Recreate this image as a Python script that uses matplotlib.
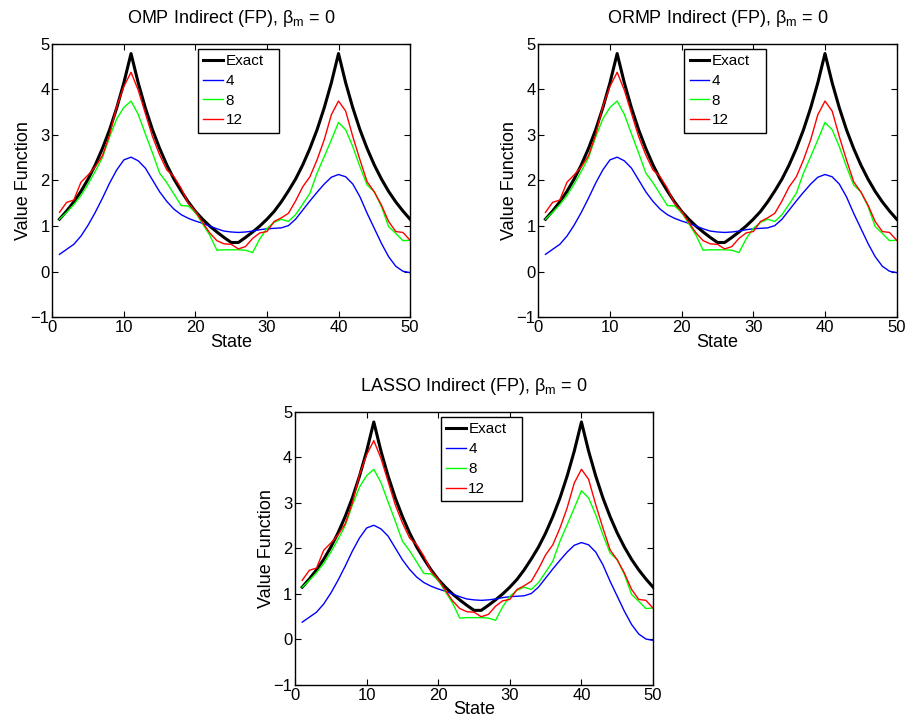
import numpy as np
import matplotlib
matplotlib.use("Agg")
import matplotlib.pyplot as plt

plt.rcParams['font.family'] = ['Liberation Sans', 'DejaVu Sans']
plt.rcParams['mathtext.fontset'] = 'custom'
plt.rcParams['mathtext.rm'] = 'Liberation Sans'
plt.rcParams['mathtext.it'] = 'Liberation Sans:italic'

# estados da cadeia
estados = np.arange(1, 51)

# funcao valor exata
exata = [1.15, 1.33, 1.53, 1.76, 2.03, 2.34, 2.70, 3.11, 3.59, 4.14,
         4.78, 4.14, 3.59, 3.11, 2.70, 2.34, 2.03, 1.77, 1.53, 1.32,
         1.15, 1.00, 0.87, 0.75, 0.64, 0.64, 0.75, 0.87, 1.00, 1.15,
         1.32, 1.53, 1.77, 2.03, 2.34, 2.70, 3.11, 3.59, 4.14, 4.78,
         4.14, 3.59, 3.11, 2.70, 2.34, 2.03, 1.76, 1.53, 1.33, 1.15]

# aproximacoes com 4, 8 e 12 bases
aprox4 = [0.38, 0.49, 0.60, 0.78, 1.02, 1.30, 1.61, 1.94, 2.23, 2.45,
          2.51, 2.43, 2.27, 2.01, 1.75, 1.54, 1.37, 1.25, 1.17, 1.11,
          1.06, 1.00, 0.94, 0.89, 0.87, 0.86, 0.87, 0.89, 0.92, 0.94,
          0.95, 0.96, 1.01, 1.15, 1.35, 1.55, 1.74, 1.92, 2.07, 2.13,
          2.08, 1.92, 1.64, 1.28, 0.95, 0.62, 0.33, 0.12, 0.01, -0.02]

aprox8 = [1.15, 1.30, 1.47, 1.67, 1.92, 2.20, 2.50, 2.95, 3.35, 3.60,
          3.74, 3.45, 3.02, 2.60, 2.16, 1.95, 1.70, 1.45, 1.44, 1.30,
          1.05, 0.80, 0.47, 0.48, 0.48, 0.48, 0.47, 0.42, 0.72, 0.95,
          1.08, 1.15, 1.10, 1.25, 1.48, 1.72, 2.16, 2.52, 2.89, 3.27,
          3.11, 2.74, 2.30, 1.90, 1.75, 1.43, 0.99, 0.84, 0.68, 0.69]

aprox12 = [1.30, 1.52, 1.57, 1.96, 2.12, 2.30, 2.54, 3.00, 3.62, 4.06,
           4.37, 3.98, 3.47, 2.96, 2.56, 2.23, 2.08, 1.83, 1.50, 1.32,
           1.08, 0.85, 0.68, 0.61, 0.60, 0.50, 0.55, 0.73, 0.85, 0.88,
           1.10, 1.18, 1.28, 1.55, 1.86, 2.08, 2.45, 2.89, 3.44, 3.74,
           3.52, 2.96, 2.45, 1.97, 1.75, 1.46, 1.10, 0.88, 0.86, 0.69]

titulos = ["OMP", "ORMP", "LASSO"]
nomes = ["Exact", "4", "8", "12"]

fig = plt.figure(figsize=(9.07, 7.23), dpi=100)

# posicoes dos tres graficos [esq, baixo, larg, alt]
posicoes = [[0.0577, 0.5611, 0.3944, 0.3787],
            [0.5935, 0.5611, 0.3951, 0.3787],
            [0.3253, 0.0526, 0.3947, 0.3776]]


def plotaGrafico(ax, metodo):

    ax.plot(estados, exata, color='k', lw=2.2, label=nomes[0])
    ax.plot(estados, aprox4, color=(0, 0, 1), lw=1.0, label=nomes[1])
    ax.plot(estados, aprox8, color=(0, 1, 0), lw=1.0, label=nomes[2])
    ax.plot(estados, aprox12, color=(1, 0, 0), lw=1.0, label=nomes[3])

    ax.set_xlim(0, 50)
    ax.set_ylim(-1, 5)
    ax.set_xticks(range(0, 51, 10))
    ax.set_yticks(range(-1, 6))
    ax.tick_params(direction='in', top=True, right=True, labelsize=12,
                   length=4, width=0.8, pad=2)
    for lado in ax.spines.values():
        lado.set_linewidth(1.0)

    ax.set_title(metodo + r" Indirect (FP), β$_{\mathrm{m}}$ = 0", fontsize=13, pad=15)
    ax.set_xlabel("State", fontsize=13, labelpad=-1)
    ax.set_ylabel("Value Function", fontsize=13, labelpad=-1)

    # legenda com a caixa do tamanho da original (modo expand)
    leg = ax.legend(loc='upper left', bbox_to_anchor=(0.407, 0.0, 0.228, 0.981),
                    mode='expand', fontsize=11,
                    handlelength=1.3, handletextpad=0.15, borderpad=0.35,
                    labelspacing=0.38, borderaxespad=0, fancybox=False, framealpha=1)
    leg.get_frame().set_edgecolor('k')
    leg.get_frame().set_linewidth(1.0)

    return


for pos, metodo in zip(posicoes, titulos):
    ax = fig.add_axes(pos)
    plotaGrafico(ax, metodo)

fig.savefig("out.png", dpi=100)
